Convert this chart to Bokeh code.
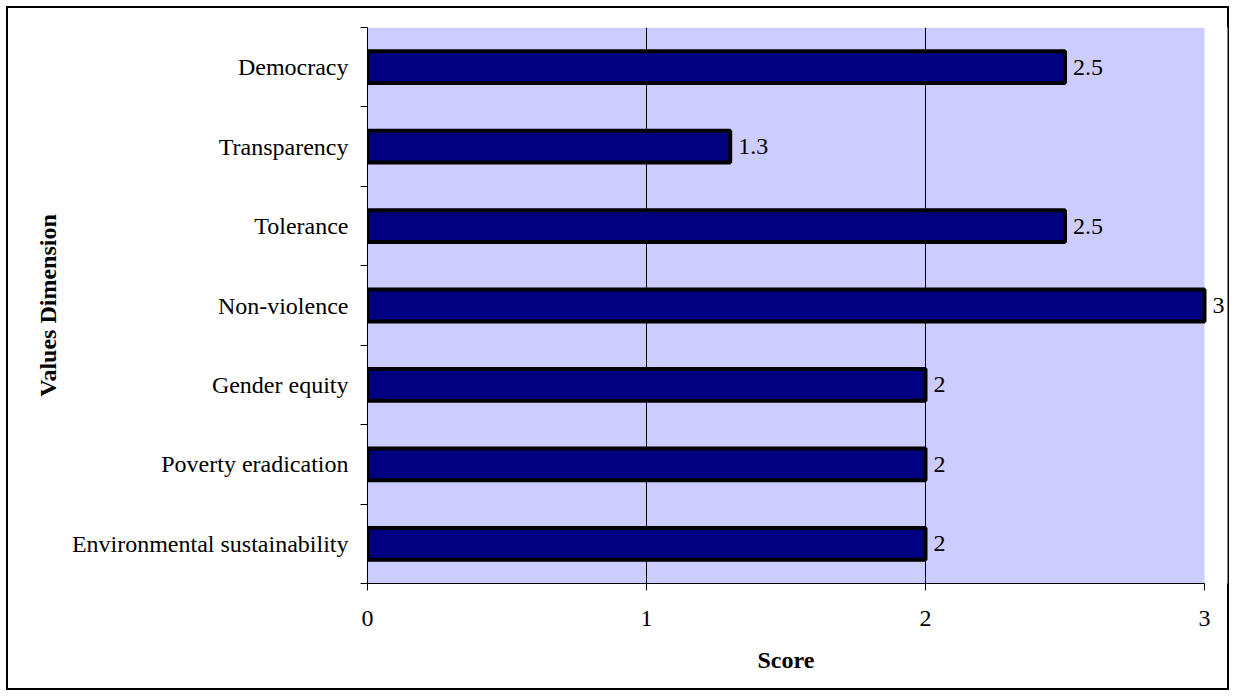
from bokeh.plotting import figure
from bokeh.models import Range1d, FixedTicker, ColumnDataSource, LabelSet, Title
from bokeh.embed import file_html
from bokeh.resources import INLINE

categories = ["Environmental sustainability", "Poverty eradication", "Gender equity",
              "Non-violence", "Tolerance", "Transparency", "Democracy"]
scores = [2, 2, 2, 3, 2.5, 1.3, 2.5]
score_labels = ["2", "2", "2", "3", "2.5", "1.3", "2.5"]
x_ticks = [0, 1, 2, 3]

FONT = "Liberation Serif"
FS = "24px"

pos = [i + 0.5 for i in range(len(categories))]
src = ColumnDataSource(dict(y=pos, score=scores, label=score_labels))

# a little extra room right of 3 so the value label of the full bar is not clipped
x_end = x_ticks[-1] * 860 / 837

p = figure(width=1235, height=696, x_range=Range1d(x_ticks[0], x_end),
           y_range=Range1d(0, len(categories)), output_backend="svg",
           toolbar_location=None, min_border_left=367, min_border_right=8,
           min_border_top=27, min_border_bottom=113)

p.background_fill_color = "white"
p.border_fill_alpha = 0
p.outline_line_color = None
p.styles = {"box-shadow": "inset 0 0 0 6px white, inset 0 0 0 8px black"}

# plot area fill (0..3 on the score axis)
p.quad(left=x_ticks[0], right=x_ticks[-1], bottom=0, top=len(categories),
       fill_color="#CCCCFF", line_color=None, level="image")

p.hbar(y="y", right="score", left=0, height=0.40, source=src,
       fill_color="#000080", line_color="black", line_width=4)

labels = LabelSet(x="score", y="y", text="label", source=src, x_offset=8,
                  text_baseline="middle", text_font=FONT, text_font_size=FS,
                  text_color="black")
p.add_layout(labels)

# grid
p.ygrid.visible = False
p.xgrid.ticker = FixedTicker(ticks=x_ticks[1:-1])
p.xgrid.grid_line_color = "black"
p.xgrid.grid_line_width = 1

# x axis
xa = p.xaxis[0]
xa.ticker = FixedTicker(ticks=x_ticks)
xa.bounds = (x_ticks[0], x_ticks[-1])
xa.axis_line_color = "black"
xa.major_tick_line_color = "black"
xa.major_tick_out = 7
xa.major_tick_in = 0
xa.minor_tick_line_color = None
xa.major_label_standoff = 20
xa.major_label_text_font = FONT
xa.major_label_text_font_size = FS
xa.major_label_text_color = "black"

# x axis title, centred under the 0..3 span
p.add_layout(Title(text="Score", align="left", offset=390, text_font=FONT,
                   text_font_size=FS, text_font_style="bold", text_color="black",
                   standoff=32), "below")

# y axis
ya = p.yaxis[0]
ya.ticker = FixedTicker(ticks=pos, minor_ticks=list(range(len(categories) + 1)))
ya.major_label_overrides = {v: c for v, c in zip(pos, categories)}
ya.axis_line_color = "black"
ya.major_tick_in = 0
ya.major_tick_out = 0
ya.minor_tick_in = 0
ya.minor_tick_out = 7
ya.minor_tick_line_color = "black"
ya.major_label_standoff = 12
ya.major_label_text_font = FONT
ya.major_label_text_font_size = FS
ya.major_label_text_color = "black"
ya.axis_label = "Values Dimension"
ya.axis_label_text_font = FONT
ya.axis_label_text_font_size = FS
ya.axis_label_text_font_style = "bold"
ya.axis_label_text_color = "black"
ya.axis_label_standoff = 8

open("out.html", "w").write(file_html(p, INLINE))
